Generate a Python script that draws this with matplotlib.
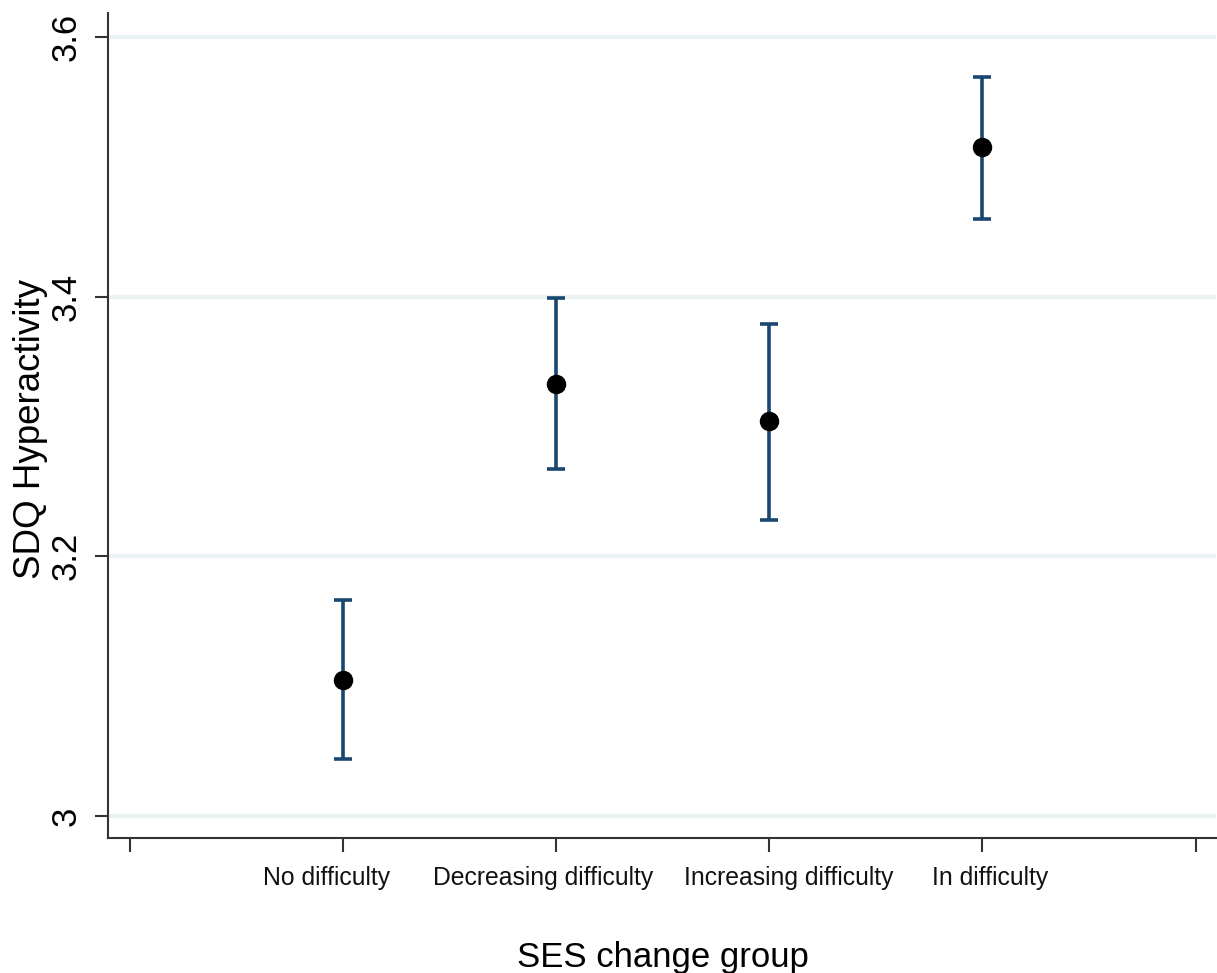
import matplotlib
matplotlib.use("Agg")
import matplotlib.pyplot as plt
import matplotlib.transforms as mtransforms
import numpy as np

categories = ["No difficulty", "Decreasing difficulty", "Increasing difficulty", "In difficulty"]
means = [3.105, 3.333, 3.304, 3.515]
lower = [3.044, 3.267, 3.228, 3.460]
upper = [3.166, 3.399, 3.379, 3.569]
yticks = [3.0, 3.2, 3.4, 3.6]
ytick_labels = ["3", "3.2", "3.4", "3.6"]
label_shift_px = [-16, -13, 19, 7.5]

plt.rcParams['font.family'] = ['Liberation Sans', 'DejaVu Sans']

fig = plt.figure(figsize=(12.17, 9.73), dpi=100)
ax = fig.add_axes([108/1217, 1-838/973, 1-108/1217 - 0.0005, (838-13)/973])

x = np.arange(1, len(categories) + 1)
m = np.array(means)
yerr = np.vstack([m - np.array(lower), np.array(upper) - m])

for yt in yticks:
    ax.axhline(yt, color='#eaf2f3', lw=3, zorder=0)

ax.errorbar(x, m, yerr=yerr, fmt='none', ecolor='#1a476f', elinewidth=2.6,
            capsize=6.5, capthick=2.6, zorder=2)
ax.plot(x, m, 'o', color='black', markersize=13, zorder=3)

ax.set_xlim(-0.103, 5.098)
ax.set_ylim(2.983, 3.6186)
ax.set_xticks([0, 1, 2, 3, 4, 5])
ax.set_xticklabels([""] * 6)
ax.set_yticks(yticks)
ax.set_yticklabels(ytick_labels, fontsize=25, rotation=90, va='center')

base = ax.get_xaxis_transform()
for xi, lab, dx in zip(x, categories, label_shift_px):
    tr = base + mtransforms.ScaledTranslation(dx / 100, -47 / 100, fig.dpi_scale_trans)
    ax.text(xi, 0, lab, transform=tr, ha='center', va='baseline', fontsize=17.8,
            color='#111111')

for s in ['top', 'right']:
    ax.spines[s].set_visible(False)
for s in ['left', 'bottom']:
    ax.spines[s].set_linewidth(1.5)
    ax.spines[s].set_color('#333333')

ax.tick_params(axis='x', length=10, width=1.5, color='#333333', pad=9)
ax.tick_params(axis='y', length=9.4, width=1.5, color='#333333', pad=8.5)

ax.set_xlabel("SES change group", fontsize=25, va='baseline')
ax.xaxis.set_label_coords(0.5005, -0.1564)
ax.set_ylabel("SDQ Hyperactivity", fontsize=26.5, va='center')
ax.yaxis.set_label_coords(-0.0695, 0.4958)

fig.savefig("out.png", dpi=100)
